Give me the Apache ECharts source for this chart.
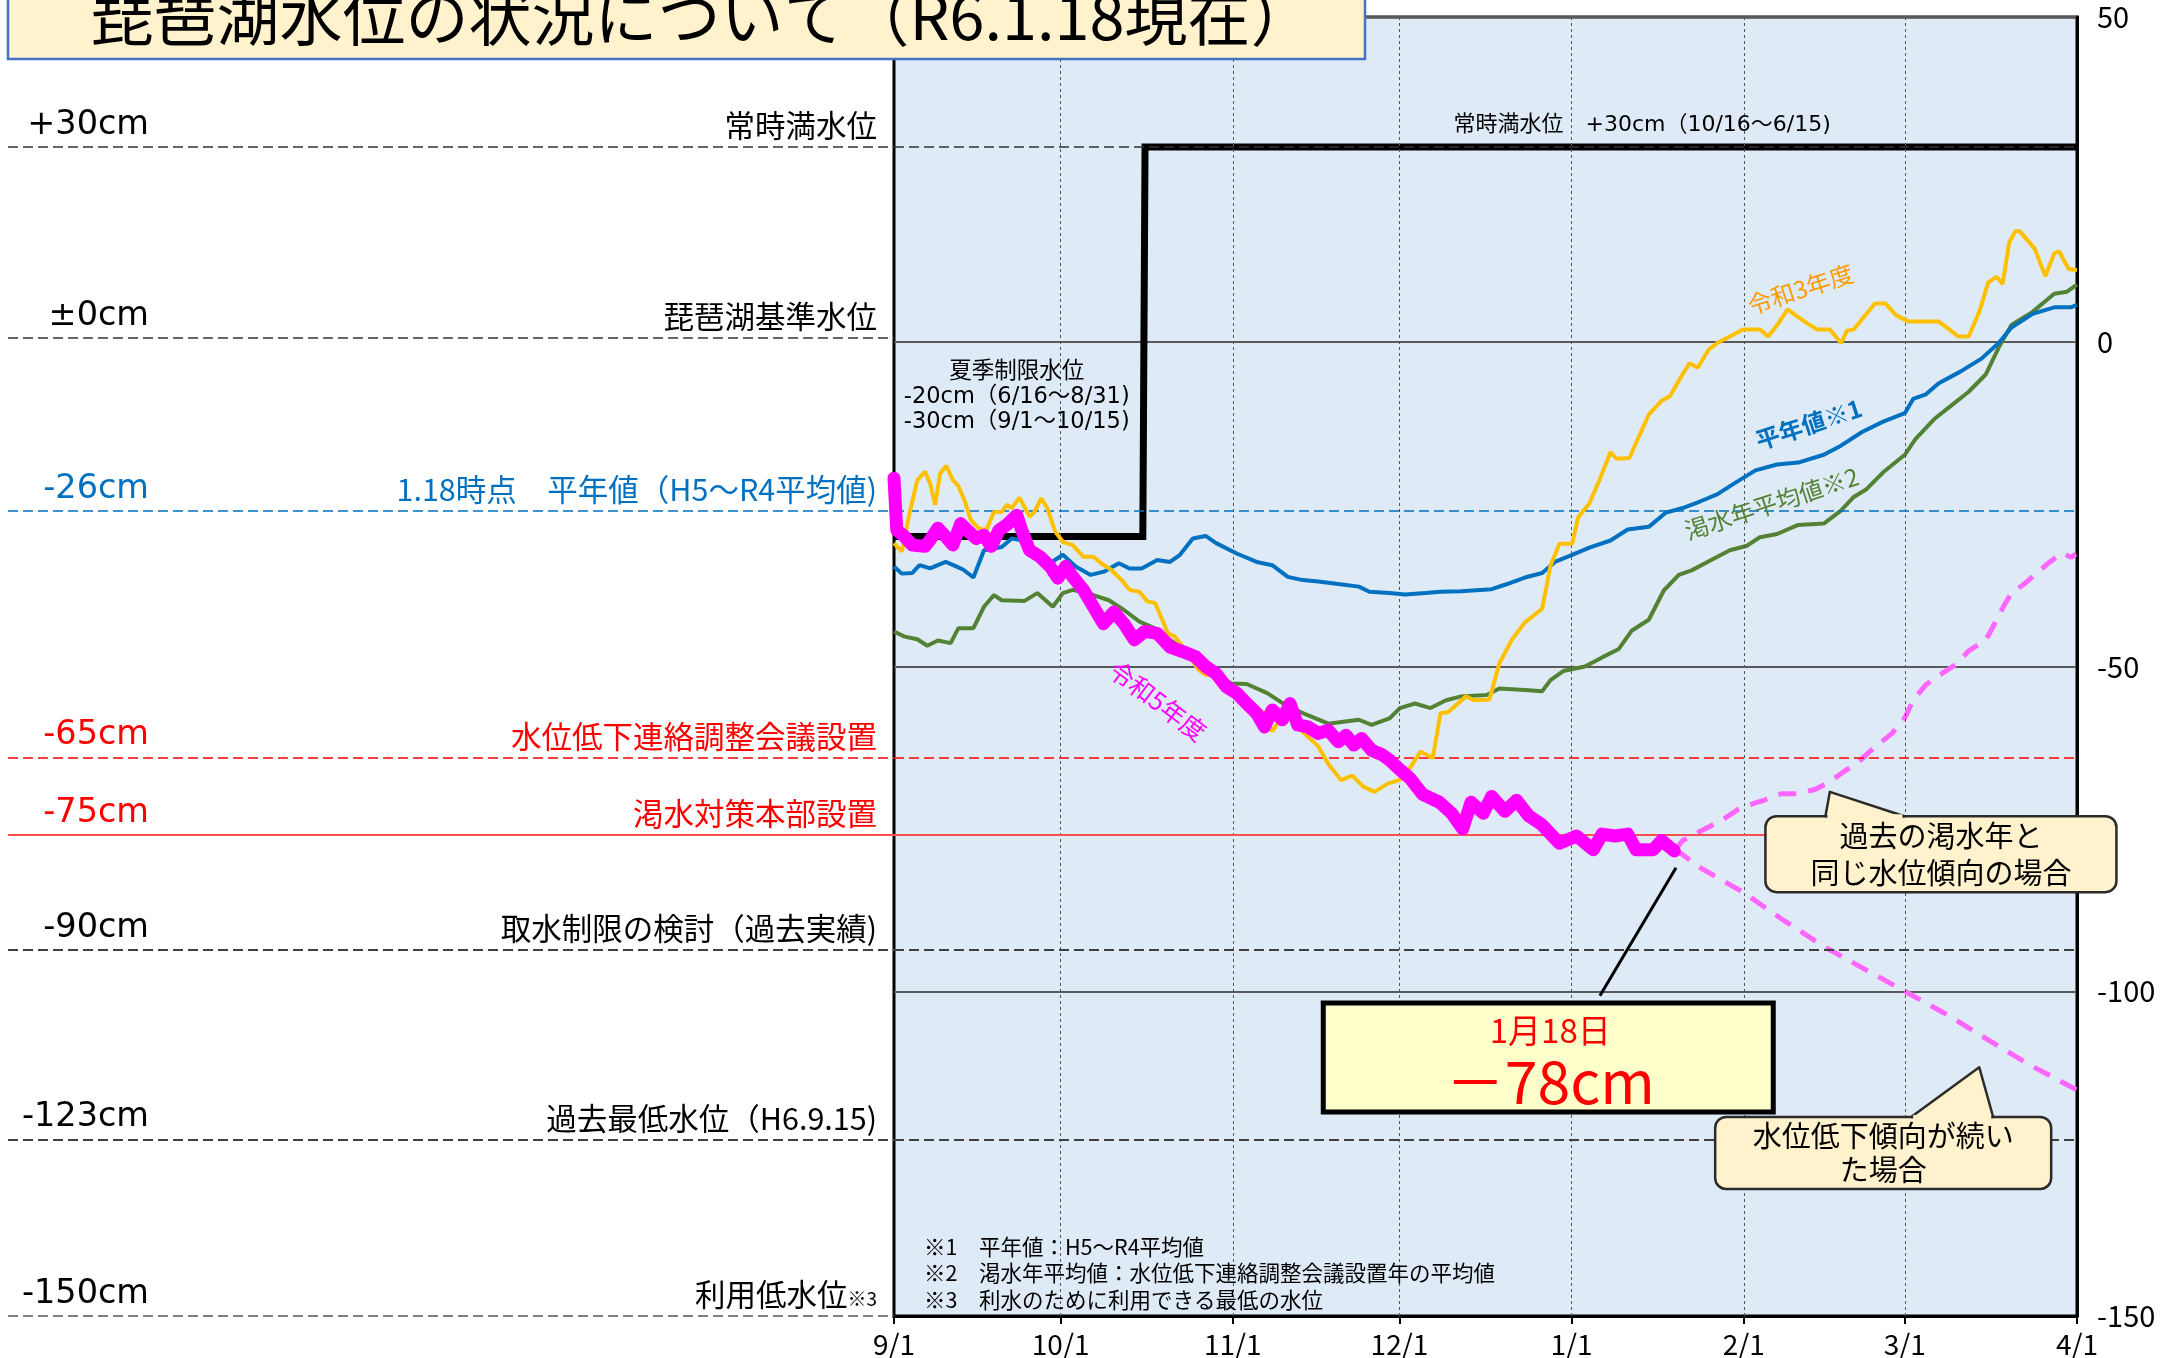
<!DOCTYPE html>
<html><head><meta charset="utf-8">
<script src="https://cdn.jsdelivr.net/npm/echarts@6/dist/echarts.min.js"></script>
<style>html,body{margin:0;padding:0;background:#fff}#c{width:2168px;height:1358px}</style>
</head><body><div id="c"></div>
<script>
// ---------- axis ticks ----------
const monthTicks = [0, 30, 61, 91, 122, 153, 182, 213];          // days from 9/1
const monthLabels = ['9/1', '10/1', '11/1', '12/1', '1/1', '2/1', '3/1', '4/1'];

// ---------- reference levels ----------
const levelDrawn = [30, 0.6, -26, -64, -75.9, -93.6, -122.8, -150];   // where each line is drawn
const levelLeftText = ['+30cm', '±0cm', '-26cm', '-65cm', '-75cm', '-90cm', '-123cm', '-150cm'];
const levelRightText = ['常時満水位', '琵琶湖基準水位', '1.18時点　平年値（H5～R4平均値)', '水位低下連絡調整会議設置',
  '渇水対策本部設置', '取水制限の検討（過去実績)', '過去最低水位（H6.9.15)', '利用低水位{s|※3}'];

// ---------- series (day from 9/1, cm) ----------
const limitDays = [0, 44.8, 45.2, 213];
const limitVals = [-30, -30, 30, 30];

const normalDays = [0,1.4,3.3,4.6,6.5,9.3,11,12.5,14.3,16.2,19.4,21.2,22.6,24.9,27.6,30.4,32.7,35.4,37.8,40.5,42.4,44.6,47.4,49.7,51.5,53.8,56.1,58,61.7,65.3,68.1,70.9,73.6,76.4,80,83.7,85.6,89.2,92,95.7,98.4,102.1,107.6,110.4,113.6,116.7,119,122.1,125.2,129,132.1,135.9,139,142,145.1,148.2,151.3,155.1,159,162.8,167.4,170.5,174.3,178.1,182,183.5,185.8,188.1,192,195.8,198.9,201.2,205,208.9,211.9,213];
const normalVals = [-34.6,-35.7,-35.6,-34.4,-34.9,-33.9,-34.5,-35.1,-36.3,-32.1,-31.6,-30.3,-30.5,-32.1,-34.4,-32.8,-34.6,-35.9,-35.4,-34.1,-34.9,-34.9,-33.6,-33.9,-32.8,-30.3,-29.9,-31.0,-32.6,-33.9,-34.4,-36.2,-36.7,-36.9,-37.3,-37.7,-38.5,-38.7,-38.9,-38.7,-38.5,-38.4,-38.1,-37.3,-36.3,-35.6,-33.9,-32.8,-31.7,-30.6,-28.9,-28.5,-26.3,-25.6,-24.6,-23.5,-21.8,-19.8,-18.9,-18.6,-17.4,-16.0,-13.9,-12.3,-11.0,-8.8,-8.1,-6.4,-4.6,-2.6,-0.2,2.2,4.3,5.3,5.3,5.7];

const dryDays = [0,1.9,4.2,6.0,7.9,10.2,11.6,14.3,16.2,18,19.4,23.5,25.8,28.6,30.4,32.2,35.9,38.7,41.4,44.2,46.9,49.7,52.5,55.2,58,60.7,63.5,67.2,70.8,74.5,78.2,80.9,83.7,86,89.2,91.1,93.8,96.6,99.4,102.1,106.7,109,113.6,116.7,118.2,120.5,124.4,127.5,130.5,132.8,135.9,138.6,141.3,143.6,147.4,150.5,153.6,155.9,159,162.8,167.4,170.5,172.8,175.1,178.1,182,183.9,187.3,190.4,193.5,196.6,198.9,201.2,205,208.9,211.2,213];
const dryVals = [-44.6,-45.4,-45.8,-46.8,-46.0,-46.4,-44.1,-44.1,-40.8,-39.0,-39.8,-39.9,-38.7,-40.8,-38.7,-38.2,-39.0,-39.8,-41.3,-43.1,-44.1,-45.9,-47.5,-49.5,-51.1,-52.6,-52.7,-54.1,-56.1,-57.5,-58.8,-58.5,-58.2,-59.0,-58.0,-56.4,-55.7,-56.4,-55.2,-54.6,-54.4,-53.4,-53.6,-53.8,-52.1,-50.7,-50.0,-48.6,-47.3,-44.5,-42.8,-38.3,-35.9,-35.2,-33.5,-32.1,-31.4,-30.1,-29.6,-28.2,-28.0,-26.0,-23.9,-22.7,-20.1,-17.4,-15.0,-11.9,-9.8,-7.7,-5.0,-0.9,2.6,4.6,7.4,7.7,8.8];

const r3Days = [0,1.4,2.8,4.2,5.6,6.5,7.4,8.3,9.4,10.6,11.5,12.7,13.8,15.2,16.6,18,19.4,20.3,21.2,22.6,24.4,25.3,26.5,27.6,29,30.4,32.2,34.1,35.9,37.3,39.1,41,42.4,44.2,45.6,47,48.3,49.3,50.6,52.5,54.8,56.1,58,59.8,61.7,63.5,65.3,66.7,68.1,69.5,70.8,72.7,74.5,76.4,78.2,80.5,82.5,84.5,86.5,89,91,93,94.8,97,98.4,99.8,103,104.4,107.2,109,111.3,113.6,116.7,118.2,119.8,122.1,123.2,125.2,127.1,129,130.1,132.4,135.9,138.2,139.7,141.3,143.2,144.7,146.7,148.2,150.5,152.8,155.9,157.4,159.3,160.9,162.8,164.3,166.2,168.5,170.5,171.6,172.8,176.6,178.5,180.4,182.7,188.1,190,191.6,193.5,195.4,197,198.5,199.6,200.8,201.9,202.7,205.4,207.3,208.9,209.8,211.5,213];
const r3Vals = [-31.0,-32.3,-26.4,-21.3,-20.0,-21.8,-25.1,-20.3,-19.1,-21.3,-22.1,-24.4,-27.4,-28.7,-29.0,-26.2,-26.2,-25.1,-25.6,-24.0,-26.9,-26.2,-24.1,-25.6,-29.2,-30.8,-31.3,-33.1,-33.1,-34.1,-35.1,-36.7,-38.2,-38.5,-40.0,-40.2,-42.8,-44.9,-45.4,-47.5,-50.5,-51.3,-51.1,-53.1,-53.9,-55.2,-56.4,-57.2,-60.0,-58.2,-56.7,-59.3,-60.8,-62.3,-65.0,-67.5,-66.8,-68.5,-69.3,-68.0,-67.5,-65.5,-63.1,-64.1,-57.2,-57.0,-54.6,-55.2,-55.1,-49.5,-45.8,-43.2,-41.1,-34.5,-31.1,-31.1,-27.0,-24.9,-21.1,-17.0,-18.0,-17.9,-11.2,-9.1,-8.4,-6.0,-3.3,-4.0,-1.2,-0.2,0.8,1.9,1.9,0.8,2.9,5.0,3.8,2.9,1.9,1.9,-0.2,1.7,1.9,5.9,5.9,4.1,3.1,3.1,1.9,0.8,0.8,4.6,9.1,10.0,8.9,15.3,17.0,17.0,14.3,10.1,13.6,13.9,11.2,11.0];

const r5Days = [0,0.5,1.9,3.3,5.6,6.5,7.9,9.3,10.6,12,13.4,14.8,16.2,17.5,18.9,20.3,22.1,23,24.4,26.3,28.1,29.5,30.9,32.2,34.1,35.9,37.7,39.6,41.4,43.3,45.1,47.4,49.7,52,54.3,56.1,58,59.8,61.7,63.5,65.3,66.7,68.1,69.9,71.3,72.7,74.5,76.4,78.2,80,81.4,82.8,84.2,86,87.9,89.2,91.1,92.9,95.2,98.2,100.4,102.4,103.9,106.1,107.6,110,112.1,114.3,116.7,119.8,122.9,125.9,127.5,129.8,132.1,133.6,136.7,138.2,140.5];
const r5Vals = [-21.0,-29.0,-30.0,-31.3,-31.5,-30.5,-28.7,-30.0,-31.3,-28.0,-29.2,-30.3,-29.8,-31.5,-29.0,-28.2,-26.7,-29.0,-32.1,-33.1,-34.6,-36.4,-34.6,-36.2,-38.2,-40.8,-43.4,-41.6,-43.4,-45.9,-44.6,-44.9,-47.0,-47.7,-48.5,-50.0,-51.1,-53.1,-54.1,-55.7,-57.2,-59.3,-56.7,-58.2,-55.7,-59.0,-59.3,-60.3,-59.8,-61.6,-60.6,-62.1,-61.1,-62.9,-63.6,-64.4,-65.9,-67.2,-69.7,-70.9,-72.6,-75.0,-70.9,-72.6,-70.0,-72.3,-70.6,-73.0,-74.4,-77.2,-76.1,-78.2,-75.8,-76.1,-75.8,-78.2,-78.2,-76.8,-78.4];

const upDays = [140.5,142,145.1,149,152,155.1,156.6,159.7,162.8,165.9,168.2,170.5,173.5,176.6,179.7,182,183.5,185.8,188.1,191.2,193.5,196.6,198.1,200,201.2,203.5,205.8,208.1,210.4,211.9,212.8];
const upVals = [-78.4,-76.8,-75.4,-73.7,-72.0,-71.0,-70.6,-69.6,-69.6,-68.9,-67.9,-66.5,-64.8,-62.4,-60.3,-57.9,-55.2,-52.8,-51.4,-49.7,-47.6,-45.9,-43.5,-40.4,-38.7,-37.3,-35.6,-33.9,-32.5,-33.2,-32.7];
const downDays = [140.5,141.7,145.4,152.8,160.2,167.6,175,182.4,189.8,197.2,204.6,213];
const downVals = [-78.4,-78.8,-81.1,-84.7,-89.1,-93.2,-96.7,-100.2,-103.7,-107.6,-111.4,-115.2];

// ---------- annotation anchors (day, cm) ----------
const fullNoteAt = [134.7, 33.4];
const summerNoteAt = [22.1, -8.5];
const labR3At = [163.2, 8.1];
const labNormalAt = [164.7, -12.7];
const labDryAt = [158.0, -24.9];
const labR5At = [47.5, -55.3];
const todayBoxAt = [117.8, -110.2];
const connectorFrom = [127.1, -100.7];
const connectorTo = [140.8, -81.0];
const bubble1At = [188.5, -78.9];
const bubble1Tip = [168.5, -69.3];
const bubble2At = [178.1, -124.9];
const bubble2Tip = [195.4, -111.7];
const notesAt = [5.4, -143.4];

// ---------- styling ----------
const FONT = "'Noto Sans CJK JP','Noto Sans',sans-serif";
const LFONT = "'DejaVu Sans','Noto Sans CJK JP',sans-serif";
const zip = (d, v) => d.map((x, i) => [x, v[i]]);
const LEFT_W = 886;
const levelStyles = [
  { color: '#333', type: [10, 5], width: 1.6, text: '#000' },
  { color: '#333', type: [10, 5], width: 1.6, text: '#000' },
  { color: '#0070C0', type: [10, 5], width: 1.6, text: '#0070C0' },
  { color: '#FF0000', type: [10, 5], width: 1.6, text: '#FF0000' },
  { color: '#FF5050', type: 'solid', width: 2, text: '#FF0000' },
  { color: '#404040', type: [10, 5], width: 1.8, text: '#000' },
  { color: '#404040', type: [10, 5], width: 1.8, text: '#000' },
  { color: '#555', type: [10, 5], width: 1.5, text: '#000' }
];
const levelInside = [true, false, true, true, true, true, true, false];
const hiddenLine = { color: 'rgba(0,0,0,0)', width: 0, opacity: 1 };

const leftMark = [];
levelDrawn.forEach((v, i) => {
  const st = levelStyles[i];
  leftMark.push([{ coord: [0, v], lineStyle: { color: st.color, type: st.type, width: st.width }, label: { show: false } }, { coord: [LEFT_W, v] }]);
  leftMark.push([{ coord: [0, v], lineStyle: hiddenLine, label: { show: true, opacity: 1, position: 'insideEndTop', formatter: levelLeftText[i], color: st.text, fontFamily: LFONT, fontSize: 33.5, distance: [0, 5] } }, { coord: [141, v] }]);
  leftMark.push([{ coord: [0, v], lineStyle: hiddenLine, label: { show: true, opacity: 1, position: 'insideEndTop', formatter: levelRightText[i], color: st.text, fontFamily: FONT, fontSize: 30.5, distance: [0, 6], rich: { s: { fontSize: 19, color: st.text, fontFamily: FONT, verticalAlign: 'bottom', padding: [0, 0, 2, 0] } } } }, { coord: [869, v] }]);
});

const mainMark = [];
monthTicks.slice(1, -1).forEach(d => mainMark.push({ xAxis: d, lineStyle: { color: '#555', type: [3, 3], width: 1 } }));
levelDrawn.forEach((v, i) => {
  if (levelInside[i]) {
    const st = levelStyles[i];
    mainMark.push({ yAxis: v, lineStyle: { color: st.color, type: st.type, width: st.width } });
  }
});

const chart = echarts.init(document.getElementById('c'), null, { renderer: 'canvas' });
const option = {
  animation: false,
  backgroundColor: '#fff',
  grid: [
    { left: 8, top: 17, width: LEFT_W, height: 1299, show: false, containLabel: false, outerBoundsMode: 'none' },
    { left: 894, top: 17, width: 1183, height: 1299, show: true, backgroundColor: '#DEEBF7', borderColor: '#000', borderWidth: 3, containLabel: false, outerBoundsMode: 'none' }
  ],
  xAxis: [
    { gridIndex: 0, type: 'value', min: 0, max: LEFT_W, show: false },
    {
      gridIndex: 1, type: 'value', min: 0, max: 213,
      axisLine: { show: true, onZero: false, lineStyle: { color: '#000', width: 3 } },
      axisTick: { show: true, customValues: monthTicks, length: 8, lineStyle: { color: '#000', width: 2 } },
      axisLabel: { customValues: monthTicks, formatter: v => monthLabels[monthTicks.indexOf(v)], fontFamily: FONT, fontSize: 28, color: '#000', margin: 14 },
      splitLine: { show: false }
    }
  ],
  yAxis: [
    { gridIndex: 0, type: 'value', min: -150, max: 50, show: false },
    {
      gridIndex: 1, type: 'value', min: -150, max: 50, interval: 50, position: 'right',
      axisLine: { show: true, onZero: false, lineStyle: { color: '#000', width: 3 } },
      axisTick: { show: false },
      axisLabel: { fontFamily: FONT, fontSize: 29, color: '#000', margin: 20 },
      splitLine: { show: true, lineStyle: { color: '#595959', width: 1.8 } }
    }
  ],
  series: [
    { type: 'line', xAxisIndex: 0, yAxisIndex: 0, data: [], silent: true, z: 1,
      markLine: { silent: true, symbol: ['none', 'none'], animation: false, label: { show: false }, data: leftMark } },
    { type: 'line', xAxisIndex: 1, yAxisIndex: 1, data: [], silent: true, z: 1,
      markLine: { silent: true, symbol: ['none', 'none'], animation: false, label: { show: false }, data: mainMark } },
    { name: '制限水位', type: 'line', xAxisIndex: 1, yAxisIndex: 1, data: zip(limitDays, limitVals), symbol: 'none', z: 2,
      lineStyle: { color: '#000', width: 7, join: 'miter' } },
    { name: '過去の渇水年と同じ', type: 'line', xAxisIndex: 1, yAxisIndex: 1, data: zip(upDays, upVals), symbol: 'none', z: 3,
      lineStyle: { color: '#FF66FF', width: 5, type: [18, 12] } },
    { name: '低下傾向継続', type: 'line', xAxisIndex: 1, yAxisIndex: 1, data: zip(downDays, downVals), symbol: 'none', z: 3,
      lineStyle: { color: '#FF66FF', width: 5, type: [18, 12] } },
    { name: '渇水年平均値', type: 'line', xAxisIndex: 1, yAxisIndex: 1, data: zip(dryDays, dryVals), symbol: 'none', z: 4,
      lineStyle: { color: '#548235', width: 4 } },
    { name: '平年値', type: 'line', xAxisIndex: 1, yAxisIndex: 1, data: zip(normalDays, normalVals), symbol: 'none', z: 5,
      lineStyle: { color: '#0070C0', width: 4 } },
    { name: '令和3年度', type: 'line', xAxisIndex: 1, yAxisIndex: 1, data: zip(r3Days, r3Vals), symbol: 'none', z: 6,
      lineStyle: { color: '#FFC000', width: 4 } },
    { name: '令和5年度', type: 'line', xAxisIndex: 1, yAxisIndex: 1, data: zip(r5Days, r5Vals), symbol: 'none', z: 7,
      lineStyle: { color: '#FF00FF', width: 13, cap: 'round', join: 'round' },
      markLine: { silent: true, symbol: ['none', 'none'], label: { show: false },
        data: [[{ coord: connectorFrom, lineStyle: { color: '#000', width: 3, type: 'solid' } }, { coord: connectorTo }]] } }
  ]
};
chart.setOption(option);

// ---------- annotations placed through the chart's own scales ----------
const P = (pt) => chart.convertToPixel({ gridIndex: 1 }, pt);
function txt(pt, text, o) {
  const p = P(pt);
  return {
    type: 'text', x: p[0], y: p[1], rotation: (o.rot || 0) * Math.PI / 180, z: o.z || 110,
    style: { text: text, fill: o.color || '#000', fontSize: o.size, fontFamily: o.family || FONT, fontWeight: o.weight || 'normal',
      align: o.align || 'center', verticalAlign: 'middle', textAlign: o.align || 'center', textVerticalAlign: 'middle', lineHeight: o.lh || o.size * 1.2 }
  };
}
function bubble(at, tip, w, h, b1, b2, text, size, lh) {
  const c = P(at), t = P(tip);
  const x0 = c[0] - w / 2, y0 = c[1] - h / 2;
  const fill = '#FFF2CC', stroke = '#2b2b2b';
  return [
    { type: 'rect', z: 120, shape: { x: x0, y: y0, width: w, height: h, r: 11 }, style: { fill: fill, stroke: stroke, lineWidth: 2.5 } },
    { type: 'polygon', z: 121, shape: { points: [[x0 + b1, y0], [t[0], t[1]], [x0 + b2, y0]] }, style: { fill: fill, stroke: stroke, lineWidth: 2.5, lineJoin: 'round' } },
    { type: 'line', z: 122, shape: { x1: x0 + b1 + 2, y1: y0, x2: x0 + b2 - 2, y2: y0 }, style: { stroke: fill, lineWidth: 4 } },
    { type: 'text', x: c[0], y: c[1], z: 123, style: { text: text, fill: '#000', fontSize: size, fontFamily: FONT, lineHeight: lh,
      align: 'center', verticalAlign: 'middle', textAlign: 'center', textVerticalAlign: 'middle' } }
  ];
}
const boxC = P(todayBoxAt);
const graphics = [
  // title
  { type: 'rect', z: 200, shape: { x: 8, y: -40, width: 1357, height: 99 }, style: { fill: '#FFF2CC', stroke: '#4472C4', lineWidth: 2.5 } },
  { type: 'text', z: 201, x: 702, y: 16, style: { text: '琵琶湖水位の状況について（R6.1.18現在）', fill: '#000', fontSize: 63, fontFamily: FONT,
    align: 'center', verticalAlign: 'middle', textAlign: 'center', textVerticalAlign: 'middle' } },
  txt(fullNoteAt, '常時満水位　+30cm（10/16～6/15)', { size: 22, family: LFONT }),
  txt(summerNoteAt, '夏季制限水位\n-20cm（6/16～8/31)\n-30cm（9/1～10/15)', { size: 22.5, lh: 25, family: LFONT }),
  txt(labR3At, '令和3年度', { size: 24, color: '#FF9900', rot: 18 }),
  txt(labNormalAt, '平年値※1', { size: 24, color: '#0070C0', rot: 18, weight: 'bold' }),
  txt(labDryAt, '渇水年平均値※2', { size: 24, color: '#548235', rot: 18 }),
  txt(labR5At, '令和5年度', { size: 25, color: '#FF00FF', rot: -37 }),
  txt(notesAt, '※1　平年値：H5～R4平均値\n※2　渇水年平均値：水位低下連絡調整会議設置年の平均値\n※3　利水のために利用できる最低の水位', { size: 21.5, lh: 26.5, align: 'left' }),
  // today box
  { type: 'rect', z: 130, shape: { x: boxC[0] - 225, y: boxC[1] - 54.5, width: 450, height: 109 }, style: { fill: '#FFFFCC', stroke: '#000', lineWidth: 5 } },
  { type: 'text', z: 131, x: boxC[0] + 2, y: boxC[1] - 27, style: { text: '1月18日', fill: '#FF0000', fontSize: 33, fontFamily: FONT,
    align: 'center', verticalAlign: 'middle', textAlign: 'center', textVerticalAlign: 'middle' } },
  { type: 'text', z: 131, x: boxC[0] + 2, y: boxC[1] + 24, style: { text: '－78cm', fill: '#FF0000', fontSize: 59, fontFamily: FONT,
    align: 'center', verticalAlign: 'middle', textAlign: 'center', textVerticalAlign: 'middle' } }
].concat(
  bubble(bubble1At, bubble1Tip, 351, 76, 60, 139, '過去の渇水年と\n同じ水位傾向の場合', 29, 37),
  bubble(bubble2At, bubble2Tip, 336, 72, 196, 278, '水位低下傾向が続い\nた場合', 29, 34)
);
chart.setOption({ graphic: graphics });
</script>
</body></html>
